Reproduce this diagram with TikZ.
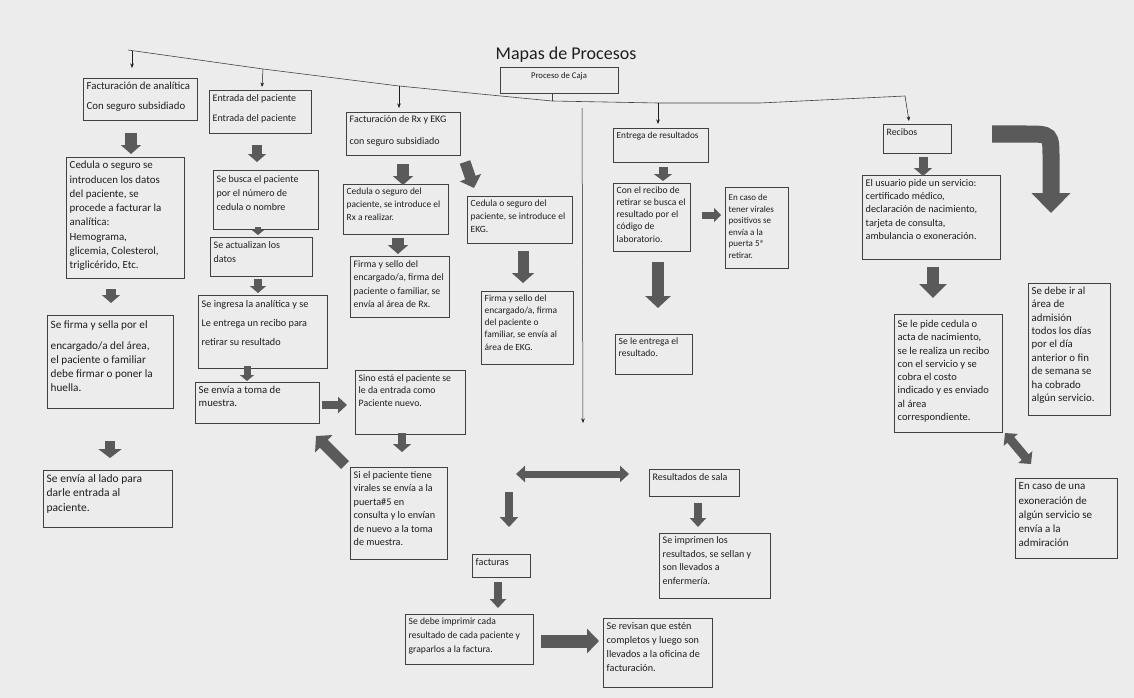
\documentclass[tikz,border=0pt]{standalone}
\usepackage{fontspec}
\setmainfont{Carlito}
\usetikzlibrary{arrows.meta}
\definecolor{paper}{RGB}{236,236,236}
\definecolor{ink}{RGB}{30,30,30}
\definecolor{edge}{RGB}{65,65,65}
\definecolor{agray}{RGB}{90,90,90}
\newcommand{\fsz}[2]{\fontsize{#1}{#2}\selectfont}
\newcommand{\mbx}[8]{\node[bx, minimum width=#4pt, minimum height=#5pt] (#1) at (#2,#3) {};
  \node[txt, font=#6] (#1t) at ([xshift=3.5pt,yshift=-#7pt]#1.north west) {#8};}
\newcommand{\barrow}[4]{\coordinate (#1s) at (#2); \coordinate (#1e) at (#3); \draw[#4] (#1s) -- (#1e);}
\begin{document}
\begin{tikzpicture}[x=1pt,y=-1pt,
 bx/.style={draw=edge, line width=0.6pt, inner sep=0pt, outer sep=0pt, anchor=north west},
 txt/.style={anchor=north west, align=left, inner sep=0pt, text=ink},
 blk/.style n args={3}{draw=agray, line width=#1, -{Triangle[width=#2,length=#3]}},
 dblk/.style n args={3}{draw=agray, line width=#1, {Triangle[width=#2,length=#3]}-{Triangle[width=#2,length=#3]}},
 thinarr/.style={draw=ink, line width=0.5pt, -{Stealth[length=4.5pt,width=3.5pt]}},
 bus/.style={draw=edge, line width=0.6pt}]
\fill[paper] (0,0) rectangle (1134,698);
\useasboundingbox (0,0) rectangle (1134,698);

% title and root
\node[text=ink, font=\fsz{18}{20}] (title) at (566,55) {Mapas de Procesos};
\node[bx, minimum width=118pt, minimum height=26pt] (caja) at (500,67) {};
\node[txt, font=\fsz{8.7}{10}, anchor=north] (cajat) at ([yshift=-5pt]caja.north) {Proceso de Caja};

% bus
\coordinate (b0) at (128,50);
\coordinate (bj) at (552,101);
\draw[bus] (b0) -- (263,69) -- (399,86) -- (470,93) -- (bj) -- (658,103) -- (760,103) -- (905,96);
\draw[bus] (caja.south -| bj) -- (bj);

% thin arrows from bus
\barrow{t1}{132,51}{132,68}{thinarr}
\barrow{t2}{263,69}{262,87}{thinarr}
\barrow{t3}{399,86}{399,108}{thinarr}
\barrow{t4}{658,103}{658,124}{thinarr}
\barrow{t5}{905,96}{909,121}{thinarr}
\barrow{dv}{582,108}{583,423}{thinarr}

% boxes
\mbx{fa}{83}{78}{114}{42}{\fsz{10.8}{20}}{4}{Facturación de analítica\\Con seguro subsidiado}
\mbx{ep}{209}{90}{102}{43}{\fsz{10}{20}}{4}{Entrada del paciente\\Entrada del paciente}
\mbx{rx}{346}{112}{114}{43}{\fsz{10}{22}}{3.5}{Facturación de Rx y EKG\\con seguro subsidiado}
\mbx{ced}{66}{157}{118}{121}{\fsz{10.9}{14.3}}{4}{Cedula o seguro se\\introducen los datos\\del paciente, se\\procede a facturar la\\analítica:\\Hemograma,\\glicemia, Colesterol,\\triglicérido, Etc.}
\mbx{busca}{213}{170}{105}{59}{\fsz{10}{14}}{5}{Se busca el paciente\\por el número de\\cedula o nombre}
\mbx{act}{210}{237}{102}{39}{\fsz{10}{14}}{4}{Se actualizan los\\datos}
\mbx{ingresa}{198}{295}{129}{73}{\fsz{10.2}{19}}{5}{Se ingresa la analítica y se\\Le entrega un recibo para\\retirar su resultado}
\mbx{cedrx}{343}{184}{105}{50}{\fsz{9.4}{13}}{4}{Cedula o seguro del\\paciente, se introduce el\\Rx a realizar.}
\mbx{firmarx}{350}{256}{99}{61}{\fsz{9.8}{13.5}}{4}{Firma y sello del\\encargado/a, firma del\\paciente o familiar, se\\envía al área de Rx.}
\mbx{cedekg}{467}{196}{105}{47}{\fsz{9.5}{13}}{4}{Cedula o seguro del\\paciente, se introduce el\\EKG.}
\mbx{firmaekg}{481}{291}{92}{73}{\fsz{9.4}{12.2}}{3.5}{Firma y sello del\\encargado/a, firma\\del paciente o\\familiar, se envía al\\área de EKG.}
\mbx{entrega}{613}{128}{95}{34}{\fsz{9.3}{10}}{4}{Entrega de resultados}
\mbx{recibo}{613}{183}{77}{68}{\fsz{9.6}{12.2}}{3.5}{Con el recibo de\\retirar se busca el\\resultado por el\\código de\\laboratorio.}
\mbx{virales}{725}{187}{63}{81}{\fsz{9}{11.6}}{7}{En caso de\\tener virales\\positivos se\\envía a la\\puerta 5ª\\retirar.}
\mbx{seleent}{615}{334}{77}{40}{\fsz{9.6}{11.8}}{3.5}{Se le entrega el\\resultado.}
\mbx{recibos}{883}{124}{68}{29}{\fsz{9.8}{10}}{4}{Recibos}
\mbx{usuario}{862}{175}{138}{84}{\fsz{10.2}{13.3}}{4}{El usuario pide un servicio:\\certificado médico,\\declaración de nacimiento,\\tarjeta de consulta,\\ambulancia o exoneración.}
\mbx{pide}{894}{314}{108}{118}{\fsz{10.5}{13.3}}{6}{Se le pide cedula o\\acta de nacimiento,\\se le realiza un recibo\\con el servicio y se\\cobra el costo\\indicado y es enviado\\al área\\correspondiente.}
\mbx{admision}{1028}{283}{82}{132}{\fsz{10.8}{13.4}}{3.5}{Se debe ir al\\área de\\admisión\\todos los días\\por el día\\anterior o fin\\de semana se\\ha cobrado\\algún servicio.}
\mbx{exon}{1015}{478}{102}{80}{\fsz{11}{14.2}}{4}{En caso de una\\exoneración de\\algún servicio se\\envía a la\\admiración}
\mbx{sefirma}{47}{315}{126}{93}{\fsz{11.2}{14}}{6}{Se firma y sella por el\\[7pt]encargado/a del área,\\el paciente o familiar\\debe firmar o poner la\\huella.}
\mbx{lado}{43}{470}{129}{57}{\fsz{11.5}{14.5}}{4}{Se envía al lado para\\darle entrada al\\paciente.}
\mbx{toma}{195}{382}{124}{41}{\fsz{10.7}{13}}{4}{Se envía a toma de\\muestra.}
\mbx{sino}{355}{370}{110}{64}{\fsz{9.8}{12.8}}{4}{Sino está el paciente se\\le da entrada como\\Paciente nuevo.}
\mbx{sivir}{350}{467}{97}{92}{\fsz{10.2}{13.5}}{4}{Si el paciente tiene\\virales se envía a la\\puerta\#5 en\\consulta y lo envían\\de nuevo a la toma\\de muestra.}
\mbx{sala}{649}{469}{90}{27}{\fsz{10}{10}}{4}{Resultados de sala}
\mbx{imprimen}{659}{533}{111}{65}{\fsz{10}{13.5}}{3.5}{Se imprimen los\\resultados, se sellan y\\son llevados a\\enfermería.}
\mbx{facturas}{472}{554}{58}{23}{\fsz{10.2}{10}}{4}{facturas}
\mbx{imprimir}{405}{614}{128}{50}{\fsz{9.6}{14}}{3.5}{Se debe imprimir cada\\resultado de cada paciente y\\graparlos a la factura.}
\mbx{revisan}{603}{618}{109}{69}{\fsz{10.2}{14}}{4}{Se revisan que estén\\completos y luego son\\llevados a la oficina de\\facturación.}

% block arrows
\barrow{a1}{131,133}{131,154}{blk={12pt}{20pt}{9pt}}
\barrow{a2}{257,145}{257,162}{blk={10pt}{18pt}{8pt}}
\barrow{a3}{403,164}{403,185}{blk={12pt}{20pt}{9pt}}
\barrow{a4}{465,162}{474,188}{blk={11pt}{22pt}{11pt}}
\barrow{a5}{111,289}{111,303}{blk={10pt}{18pt}{8pt}}
\barrow{a6}{258,227}{258,235}{blk={6pt}{12pt}{5pt}}
\barrow{a7}{258,279}{258,293}{blk={8pt}{16pt}{7pt}}
\barrow{a8}{398,238}{398,254}{blk={12pt}{20pt}{9pt}}
\barrow{a9}{523,251}{523,283}{blk={11pt}{22pt}{10pt}}
\barrow{a10}{663,167}{663,181}{blk={9pt}{18pt}{7pt}}
\barrow{a11}{702,215}{721,215}{blk={7pt}{14pt}{7pt}}
\barrow{a12}{658,262}{658,308}{blk={12pt}{25pt}{12pt}}
\barrow{a13}{923,157}{923,176}{blk={9pt}{18pt}{8pt}}
\barrow{a14}{933,267}{933,298}{blk={12pt}{27pt}{14pt}}
\barrow{a16}{110,441}{110,458}{blk={10pt}{23pt}{9pt}}
\barrow{a17}{247,366}{247,381}{blk={7pt}{14pt}{6pt}}
\barrow{a18}{322,405}{347,405}{blk={8pt}{16pt}{9pt}}
\barrow{a19}{402,433}{402,452}{blk={8pt}{18pt}{8pt}}
\barrow{a20}{345,465}{316,436}{blk={11pt}{24pt}{11pt}}
\barrow{a21}{516,474}{629,474}{dblk={7pt}{16pt}{9pt}}
\barrow{a22}{509,492}{509,527}{blk={8pt}{18pt}{10pt}}
\barrow{a23}{698,503}{698,527}{blk={8pt}{16pt}{9pt}}
\barrow{a24}{498,582}{498,608}{blk={8pt}{16pt}{9pt}}
\barrow{a25}{541,641}{599,641}{blk={13pt}{24pt}{12pt}}
\barrow{a26}{1005,433}{1031,464}{dblk={9pt}{18pt}{9pt}}

% curved block arrow
\coordinate (cvs) at (992,134);
\coordinate (cve) at (1051,213);
\draw[draw=agray, line width=17pt, -{Triangle[width=38pt,length=20pt]}]
  (cvs) -- (1026,134) .. controls (1051,134) .. (1051,159) -- (cve);
\end{tikzpicture}
\end{document}
